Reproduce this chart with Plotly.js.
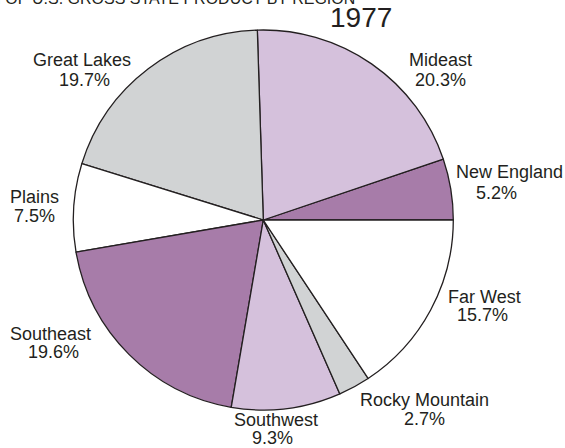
<!DOCTYPE html>
<html>
<head>
<meta charset="utf-8">
<script src="https://cdn.plot.ly/plotly-3.0.1.min.js"></script>
<style>html,body{margin:0;padding:0;background:#fff;}#chart{width:565px;height:448px;}</style>
</head>
<body>
<div id="chart"></div>
<script>
// Data
const regions = ["New England", "Mideast", "Great Lakes", "Plains", "Southeast", "Southwest", "Rocky Mountain", "Far West"];
const shares = [5.2, 20.3, 19.7, 7.5, 19.6, 9.3, 2.7, 15.7];
const year = "1977";
const headline = "DISTRIBUTION OF U.S. GROSS STATE PRODUCT BY REGION";

// Styles
const sliceColors = ["#a77ca9", "#d5c1dc", "#d1d3d4", "#ffffff", "#a77ca9", "#d5c1dc", "#d1d3d4", "#ffffff"];
const ink = "#231f20";
const W = 565, H = 448;
// label line centres in pixels [name line, percent line]
const labelPos = {
  "New England":   [[509, 172], [497, 192.5]],
  "Mideast":       [[440, 60], [440, 80]],
  "Great Lakes":   [[82, 60], [84.5, 80]],
  "Plains":        [[34, 196.5], [34, 216]],
  "Southeast":     [[50, 334], [53, 351.5]],
  "Southwest":     [[276, 420], [272, 438]],
  "Rocky Mountain":[[424, 400], [424, 419]],
  "Far West":      [[484, 297], [482, 315]]
};

const annotations = [];
regions.forEach((r, i) => {
  const p = labelPos[r];
  const lines = [r, shares[i].toFixed(1) + "%"];
  lines.forEach((t, k) => {
    annotations.push({
      text: t, showarrow: false, xref: "paper", yref: "paper",
      x: p[k][0] / W, y: 1 - p[k][1] / H, xanchor: "center", yanchor: "middle",
      font: {family: "Liberation Sans, Arial, sans-serif", size: 18, color: ink}
    });
  });
});
annotations.push({
  text: year, showarrow: false, xref: "paper", yref: "paper",
  x: 360.5 / W, y: 1 - 18 / H, xanchor: "center", yanchor: "middle",
  font: {family: "Liberation Sans, Arial, sans-serif", size: 28, color: ink}
});
annotations.push({
  text: headline, showarrow: false, xref: "paper", yref: "paper",
  x: 357 / W, y: 1 + 1.5 / H, xanchor: "right", yanchor: "middle",
  font: {family: "Liberation Sans, Arial, sans-serif", size: 16, color: ink}
});

const total = shares.reduce((a, b) => a + b, 0);
const cx = 263.3, cy = 220, r = 190;
const trace = {
  type: "pie",
  labels: regions,
  values: shares,
  sort: false,
  direction: "counterclockwise",
  rotation: 90 - 360 * shares[0] / total,
  textinfo: "none",
  hoverinfo: "label+percent",
  marker: {colors: sliceColors, line: {color: ink, width: 1.3}},
  domain: {x: [(cx - r) / W, (cx + r) / W], y: [1 - (cy + r) / H, 1 - (cy - r) / H]},
  showlegend: false
};

Plotly.newPlot("chart", [trace], {
  width: W, height: H,
  margin: {l: 0, r: 0, t: 0, b: 0},
  paper_bgcolor: "#ffffff",
  showlegend: false,
  annotations: annotations
}, {displayModeBar: false, staticPlot: true});
</script>
</body>
</html>
